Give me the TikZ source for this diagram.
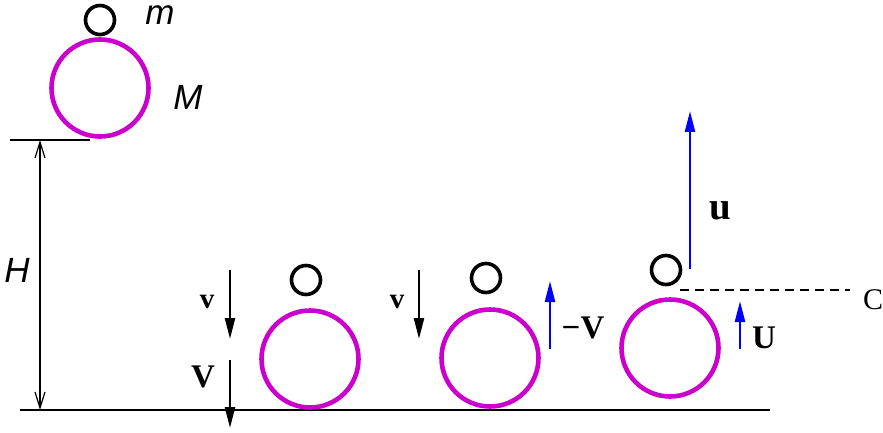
\documentclass[tikz,border=0pt]{standalone}
\usepackage{fontspec}
\setmainfont{Liberation Serif}
\newfontfamily\hsans{Liberation Sans}
\usetikzlibrary{arrows.meta}
\definecolor{mag}{RGB}{204,0,204}
\begin{document}
\begin{tikzpicture}[x=1pt,y=-1pt,
  ball/.style={circle,draw=mag,line width=4.6pt,minimum size=97pt,inner sep=0pt},
  bead/.style={circle,draw=black,line width=3.6pt,minimum size=29pt,inner sep=0pt},
  vel/.style={line width=2.4pt,-{Triangle[length=21pt,width=10pt]}},
  bvel/.style={vel,draw=blue},
  thinline/.style={line width=1.3pt},
  dimline/.style={line width=1.3pt,{Straight Barb[length=16pt,width=10pt,line width=1.2pt]}-{Straight Barb[length=16pt,width=10pt,line width=1.2pt]}},
  slab/.style={font=\hsans\itshape\fontsize{35}{35}\selectfont,inner sep=0pt},
  blab/.style={font=\bfseries\fontsize{33}{33}\selectfont,inner sep=0pt},
  smlab/.style={font=\bfseries\fontsize{29}{29}\selectfont,inner sep=0pt}]
\useasboundingbox (0,0) rectangle (883,433);
% top bodies
\node[ball] (M0) at (100,88) {};
\node[bead] (m0) at (100,20) {};
\node[slab] (lm) at (160,15) {m};
\node[slab] (lM) at (188,97) {M};
% height dimension
\coordinate (t1) at (10,140);
\coordinate (t2) at (90,140);
\coordinate (g1) at (20,410);
\coordinate (g2) at (770,410);
\coordinate (h1) at (40,140);
\coordinate (h2) at (40,410);
\draw[thinline] (t1) -- (t2);
\draw[thinline] (g1) -- (g2);
\draw[dimline] (h1) -- (h2);
\node[slab] (lH) at (17,270) {H};
% stage 1
\node[ball] (M1) at (310,359) {};
\node[bead] (m1) at (306,280) {};
\coordinate (a1s) at (230,270);
\coordinate (a1e) at (230,339);
\coordinate (b1s) at (230,360);
\coordinate (b1e) at (230,428);
\draw[vel] (a1s) -- (a1e);
\draw[vel] (b1s) -- (b1e);
\node[smlab] (lv1) at (207,302) {v};
\node[blab] (lV1) at (203,377) {V};
% stage 2
\node[ball] (M2) at (490,358) {};
\node[bead] (m2) at (486,278) {};
\coordinate (a2s) at (419,270);
\coordinate (a2e) at (419,339);
\draw[vel] (a2s) -- (a2e);
\node[smlab] (lv2) at (397,302) {v};
\coordinate (c2s) at (550,349);
\coordinate (c2e) at (550,281);
\draw[bvel] (c2s) -- (c2e);
\node[blab] (lmV) at (583,328) {−V};
% stage 3
\node[ball] (M3) at (670,348) {};
\node[bead] (m3) at (666,270) {};
\coordinate (us) at (690,269);
\coordinate (ue) at (690,111);
\draw[bvel] (us) -- (ue);
\node[font=\bfseries\fontsize{39}{39}\selectfont,inner sep=0pt] (lu) at (720,211) {u};
\coordinate (Us) at (740,349);
\coordinate (Ue) at (740,301);
\draw[bvel] (Us) -- (Ue);
\node[blab] (lU) at (764,338) {U};
\coordinate (d1) at (680,290);
\coordinate (d2) at (850,290);
\draw[line width=1.2pt,dash pattern=on 9pt off 6pt] (d1) -- (d2);
\node[font=\fontsize{30}{30}\selectfont,inner sep=0pt] (lC) at (873,300) {C};
\end{tikzpicture}
\end{document}
